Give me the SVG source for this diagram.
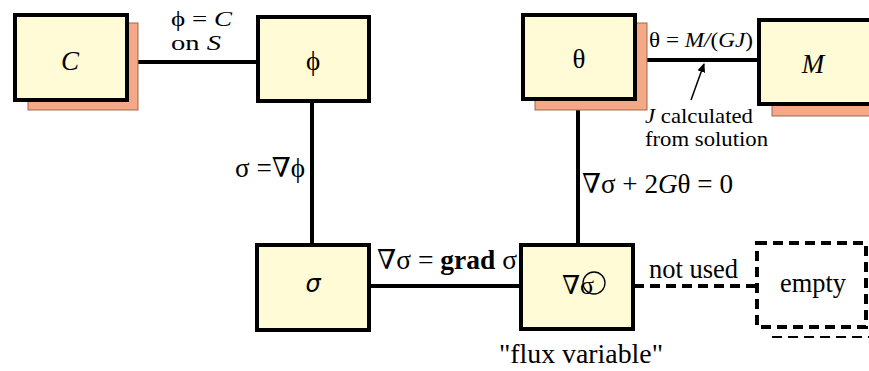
<svg xmlns="http://www.w3.org/2000/svg" width="869" height="371" viewBox="0 0 869 371" font-family="'Liberation Serif','DejaVu Serif',serif">
<style>
.box{fill:#FFFBD7;stroke:#000;stroke-width:4}
.shadow{fill:#F5A886;stroke:#9A6A50;stroke-width:1}
.conn{stroke:#000;stroke-width:4;fill:none}
.dash{stroke-dasharray:10 6}
svg text{font-family:"Liberation Serif","DejaVu Serif",serif;fill:#000}
.lbl{font-size:27px}
.sm{font-size:22px}
.node{font-size:27px;text-anchor:middle}
.it{font-style:italic}
</style>
<defs>
<marker id="ah" markerWidth="10" markerHeight="10" refX="8" refY="5" orient="auto" markerUnits="userSpaceOnUse">
<path d="M0,1 L9,5 L0,9 Z" fill="#000"/>
</marker>
</defs>
<rect width="869" height="371" fill="#fff"/>
<g id="connectors">
<line class="conn" x1="129" y1="62" x2="257" y2="62"/>
<line class="conn" x1="312" y1="101" x2="312" y2="244"/>
<line class="conn" x1="370" y1="286" x2="520" y2="286"/>
<line class="conn" x1="578" y1="100" x2="578" y2="244"/>
<line class="conn" x1="646" y1="60" x2="758" y2="60"/>
<line class="conn dash" x1="634" y1="286" x2="756" y2="286"/>
<line stroke="#000" stroke-width="1.5" x1="691" y1="100" x2="704" y2="64" marker-end="url(#ah)"/>
</g>
<g id="node-C">
<rect class="shadow" x="28" y="23" width="110" height="87"/>
<rect class="box" x="15" y="15" width="112" height="85"/>
<text class="node it" x="70" y="70">C</text>
</g>
<g id="node-phi">
<rect class="box" x="258" y="17" width="111" height="84"/>
<text class="node" x="313" y="70">ϕ</text>
</g>
<g id="node-theta">
<rect class="shadow" x="535" y="23" width="112" height="87"/>
<rect class="box" x="523" y="15" width="112" height="84"/>
<text class="node" x="579" y="68">θ</text>
</g>
<g id="node-M">
<rect class="shadow" x="772" y="26" width="110" height="90"/>
<rect class="box" x="759" y="20" width="120" height="84"/>
<text class="node it" x="813" y="73">M</text>
</g>
<g id="node-sigma">
<rect class="box" x="257" y="245" width="112" height="85"/>
<text class="node it" x="313" y="292" style="font-family:'DejaVu Sans',sans-serif;font-size:24px">σ</text>
</g>
<g id="node-divsigma">
<rect class="box" x="521" y="245" width="112" height="84"/>
<text class="node" x="578" y="294" style="font-size:26px">∇σ</text>
<circle cx="594" cy="283" r="11" fill="none" stroke="#000" stroke-width="1.3"/>
</g>
<g id="node-empty">
<line class="dash" stroke="#000" stroke-width="2" x1="772" y1="337" x2="869" y2="337"/>
<rect x="757" y="243" width="109" height="84" fill="#fff" stroke="#000" stroke-width="4" stroke-dasharray="10 6"/>
<text class="node" x="813" y="292" textLength="66" lengthAdjust="spacingAndGlyphs">empty</text>
</g>
<g id="labels">
<text class="lbl" style="font-size:22px"><tspan x="171" y="26" textLength="61" lengthAdjust="spacingAndGlyphs">ϕ = <tspan class="it">C</tspan></tspan><tspan x="171" y="50" textLength="50" lengthAdjust="spacingAndGlyphs">on <tspan class="it">S</tspan></tspan></text>
<text class="sm" x="649" y="47" textLength="104" lengthAdjust="spacingAndGlyphs">θ = <tspan class="it">M/</tspan>(<tspan class="it">GJ</tspan>)</text>
<text class="sm" x="645" y="123" textLength="108" lengthAdjust="spacingAndGlyphs"><tspan class="it">J</tspan> calculated</text>
<text class="sm" x="645" y="146" textLength="123" lengthAdjust="spacingAndGlyphs">from solution</text>
<text class="lbl" x="235" y="177" textLength="70" lengthAdjust="spacingAndGlyphs">σ =∇ϕ</text>
<text class="lbl" x="582" y="193" textLength="151" lengthAdjust="spacingAndGlyphs">∇σ + 2<tspan class="it">G</tspan>θ = 0</text>
<text class="lbl" x="377" y="269" textLength="140" lengthAdjust="spacingAndGlyphs">∇σ = <tspan font-weight="bold">grad</tspan> σ</text>
<text class="lbl" x="649" y="278" textLength="89" lengthAdjust="spacingAndGlyphs">not used</text>
<text class="lbl" x="499" y="363" textLength="164" lengthAdjust="spacingAndGlyphs">"flux variable"</text>
</g>
</svg>
